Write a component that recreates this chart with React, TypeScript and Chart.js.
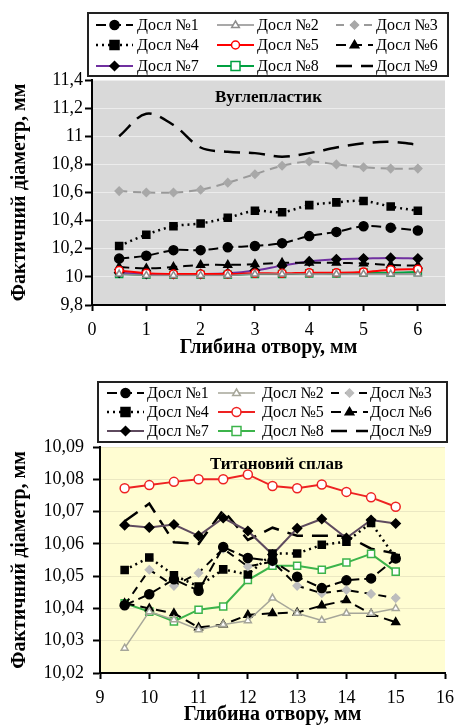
import React, { useEffect, useRef } from 'react';
import { Chart, registerables } from 'chart.js';

Chart.register(...registerables);

// ---- data ----
const seriesNames = ['Досл №1', 'Досл №2', 'Досл №3', 'Досл №4', 'Досл №5', 'Досл №6', 'Досл №7', 'Досл №8', 'Досл №9'];

// Вуглепластик (carbon fibre plastic)
const depthCarbon = [0.5, 1, 1.5, 2, 2.5, 3, 3.5, 4, 4.5, 5, 5.5, 6];
const carbon1 = [10.13, 10.15, 10.19, 10.19, 10.21, 10.22, 10.24, 10.29, 10.32, 10.36, 10.35, 10.33];
const carbon2 = [10.02, 10.01, 10.01, 10.01, 10.01, 10.02, 10.02, 10.02, 10.02, 10.02, 10.02, 10.02];
const carbon3 = [10.61, 10.6, 10.6, 10.62, 10.67, 10.73, 10.79, 10.82, 10.8, 10.78, 10.77, 10.77];
const carbon4 = [10.22, 10.3, 10.36, 10.38, 10.42, 10.47, 10.46, 10.51, 10.53, 10.54, 10.5, 10.47];
const carbon5 = [10.045, 10.025, 10.02, 10.02, 10.02, 10.025, 10.025, 10.03, 10.03, 10.035, 10.05, 10.055];
const carbon6 = [10.07, 10.06, 10.07, 10.085, 10.085, 10.09, 10.1, 10.1, 10.1, 10.095, 10.085, 10.08];
const carbon7 = [10.03, 10.02, 10.02, 10.02, 10.025, 10.045, 10.08, 10.11, 10.125, 10.13, 10.135, 10.13];
const carbon8 = [10.02, 10.015, 10.015, 10.015, 10.015, 10.02, 10.02, 10.025, 10.025, 10.03, 10.03, 10.035];
const carbon9 = [11.0, 11.16, 11.08, 10.92, 10.89, 10.88, 10.855, 10.88, 10.92, 10.95, 10.96, 10.94];
const carbonXTicks = [0, 1, 2, 3, 4, 5, 6];

// Титановий сплав (titanium alloy)
const depthTitan = [9.5, 10, 10.5, 11, 11.5, 12, 12.5, 13, 13.5, 14, 14.5, 15];
const titan1 = [10.041, 10.0444, 10.049, 10.0455, 10.059, 10.0556, 10.0548, 10.0498, 10.0463, 10.0487, 10.0493, 10.0555];
const titan2 = [10.0277, 10.039, 10.0365, 10.0334, 10.035, 10.0362, 10.0432, 10.0385, 10.0363, 10.0385, 10.0385, 10.04];
const titan3 = [10.041, 10.052, 10.047, 10.051, 10.0585, 10.053, 10.0545, 10.047, 10.0447, 10.0457, 10.0445, 10.0432];
const titan4 = [10.0519, 10.0558, 10.0503, 10.0468, 10.0521, 10.0505, 10.057, 10.057, 10.0597, 10.0607, 10.0665, 10.0556];
const titan5 = [10.0772, 10.0782, 10.0792, 10.08, 10.08, 10.0815, 10.0779, 10.0772, 10.0784, 10.0761, 10.0744, 10.0715];
const titan6 = [10.0416, 10.04, 10.0385, 10.0341, 10.035, 10.038, 10.0385, 10.0387, 10.0409, 10.0425, 10.0383, 10.0357];
const titan7 = [10.0658, 10.0651, 10.066, 10.0625, 10.068, 10.064, 10.0567, 10.0648, 10.0677, 10.0618, 10.0674, 10.0663];
const titan8 = [10.0416, 10.039, 10.036, 10.0396, 10.0406, 10.0488, 10.0532, 10.0532, 10.052, 10.0542, 10.0569, 10.0514];
const titan9 = [10.067, 10.0725, 10.0605, 10.06, 10.0705, 10.0612, 10.065, 10.0625, 10.0625, 10.0625, 10.0585, 10.057];
const titanXTicks = [9, 10, 11, 12, 13, 14, 15, 16];

// ---- styles ----
type SeriesStyle = {
  color: string;
  width: number;
  dash: number[];
  point: 'circle' | 'rect' | 'rectRot' | 'triangle' | false;
  radius: number;
  fill: string;
  stroke: string;
};

const carbonStyles: SeriesStyle[] = [
  { color: '#000', width: 2, dash: [10, 5], point: 'circle', radius: 4.5, fill: '#000', stroke: '#000' },
  { color: '#8c8c8c', width: 1.5, dash: [], point: 'triangle', radius: 4, fill: '#fff', stroke: '#8c8c8c' },
  { color: '#9a9a9a', width: 2, dash: [8, 6], point: 'rectRot', radius: 4, fill: '#a8a8a8', stroke: '#a8a8a8' },
  { color: '#000', width: 2.5, dash: [2, 4], point: 'rect', radius: 5, fill: '#000', stroke: '#000' },
  { color: '#ff0000', width: 2, dash: [], point: 'circle', radius: 4, fill: '#fff', stroke: '#ff0000' },
  { color: '#000', width: 2, dash: [10, 6], point: 'triangle', radius: 4.5, fill: '#000', stroke: '#000' },
  { color: '#7030a0', width: 2, dash: [], point: 'rectRot', radius: 4.5, fill: '#000', stroke: '#000' },
  { color: '#00a040', width: 2, dash: [], point: 'rect', radius: 5, fill: '#fff', stroke: '#00a040' },
  { color: '#000', width: 2.5, dash: [16, 9], point: false, radius: 0, fill: '#000', stroke: '#000' },
];

const titanStyles: SeriesStyle[] = [
  { color: '#000', width: 2, dash: [10, 5], point: 'circle', radius: 4.5, fill: '#000', stroke: '#000' },
  { color: '#a6a699', width: 1.5, dash: [], point: 'triangle', radius: 4, fill: '#fff', stroke: '#a6a699' },
  { color: '#000', width: 2, dash: [8, 6], point: 'rectRot', radius: 4, fill: '#bdbdbd', stroke: '#bdbdbd' },
  { color: '#000', width: 2.5, dash: [2, 4], point: 'rect', radius: 5, fill: '#000', stroke: '#000' },
  { color: '#ee2222', width: 2, dash: [], point: 'circle', radius: 4.5, fill: '#fff', stroke: '#ee2222' },
  { color: '#000', width: 2, dash: [10, 6], point: 'triangle', radius: 4.5, fill: '#000', stroke: '#000' },
  { color: '#5e4a5e', width: 2, dash: [], point: 'rectRot', radius: 4.5, fill: '#000', stroke: '#000' },
  { color: '#3cb44b', width: 2, dash: [], point: 'rect', radius: 5, fill: '#fff', stroke: '#3cb44b' },
  { color: '#000', width: 2.5, dash: [16, 9], point: false, radius: 0, fill: '#000', stroke: '#000' },
];

const FONT = '"Liberation Serif", "Times New Roman", serif';

// ---- helpers ----
function drawMarker(ctx: CanvasRenderingContext2D, s: SeriesStyle, x: number, y: number) {
  if (!s.point) return;
  const r = s.radius;
  ctx.save();
  ctx.setLineDash([]);
  ctx.fillStyle = s.fill;
  ctx.strokeStyle = s.stroke;
  ctx.lineWidth = 1.5;
  ctx.beginPath();
  if (s.point === 'circle') {
    ctx.arc(x, y, r, 0, Math.PI * 2);
  } else if (s.point === 'rect') {
    const h = r * 0.9;
    ctx.rect(x - h, y - h, h * 2, h * 2);
  } else if (s.point === 'rectRot') {
    ctx.moveTo(x, y - r);
    ctx.lineTo(x + r, y);
    ctx.lineTo(x, y + r);
    ctx.lineTo(x - r, y);
    ctx.closePath();
  } else if (s.point === 'triangle') {
    ctx.moveTo(x, y - r);
    ctx.lineTo(x + r * 0.95, y + r * 0.6);
    ctx.lineTo(x - r * 0.95, y + r * 0.6);
    ctx.closePath();
  }
  ctx.fill();
  ctx.stroke();
  ctx.restore();
}

const plotBackground = {
  id: 'plotBackground',
  beforeDraw(chart: any, _a: any, opts: any) {
    const { ctx, chartArea } = chart;
    ctx.save();
    ctx.fillStyle = opts.color;
    ctx.fillRect(chartArea.left, chartArea.top, chartArea.right - chartArea.left, chartArea.bottom - chartArea.top);
    ctx.restore();
  },
};

const plotLabel = {
  id: 'plotLabel',
  beforeDatasetsDraw(chart: any, _a: any, opts: any) {
    const { ctx, chartArea } = chart;
    ctx.save();
    ctx.font = `bold 17px ${FONT}`;
    ctx.fillStyle = '#000';
    ctx.textAlign = 'center';
    ctx.textBaseline = 'middle';
    ctx.fillText(opts.text, (chartArea.left + chartArea.right) / 2 + (opts.dx || 0), chartArea.top + opts.dy);
    ctx.restore();
  },
};

const boxLegend = {
  id: 'boxLegend',
  afterDraw(chart: any, _a: any, opts: any) {
    const { ctx } = chart;
    const { box, cols, texts, rows, sample, styles } = opts;
    ctx.save();
    ctx.fillStyle = '#fff';
    ctx.fillRect(box.x, box.y, box.w, box.h);
    ctx.lineWidth = 2;
    ctx.strokeStyle = '#222';
    ctx.strokeRect(box.x, box.y, box.w, box.h);
    chart.data.datasets.forEach((ds: any, i: number) => {
      const s: SeriesStyle = styles[i];
      const x0 = cols[i % 3];
      const y = rows[Math.floor(i / 3)];
      ctx.save();
      ctx.strokeStyle = s.color;
      ctx.lineWidth = s.width;
      ctx.setLineDash(s.dash);
      ctx.beginPath();
      ctx.moveTo(x0, y);
      ctx.lineTo(x0 + sample, y);
      ctx.stroke();
      ctx.restore();
      drawMarker(ctx, s, x0 + sample / 2, y);
      ctx.font = `16px ${FONT}`;
      ctx.fillStyle = '#000';
      ctx.textAlign = 'left';
      ctx.textBaseline = 'middle';
      ctx.fillText(ds.label, texts[i % 3], y + 1);
    });
    ctx.restore();
  },
};

type PanelSpec = {
  xs: number[];
  series: number[][];
  styles: SeriesStyle[];
  tension: number;
  xMin: number;
  xMax: number;
  xTicks: number[];
  yMin: number;
  yMax: number;
  yStep: number;
  yDecimals: number;
  yTickFont: number;
  yTickPad: number;
  label: string;
  labelDx: number;
  bg: string;
  grid: string;
  axisWidth: number;
  xAxisHeight: number;
  padTop: number;
  legend: any;
};

function formatTick(v: number, decimals: number) {
  const f = Math.pow(10, decimals);
  return (Math.round(v * f) / f).toString().replace('.', ',');
}

function buildConfig(p: PanelSpec): any {
  return {
    type: 'line',
    data: {
      datasets: p.series.map((ys, i) => {
        const s = p.styles[i];
        return {
          label: seriesNames[i],
          data: p.xs.map((x, j) => ({ x, y: ys[j] })),
          borderColor: s.color,
          borderWidth: s.width,
          borderDash: s.dash,
          backgroundColor: s.fill,
          pointStyle: s.point,
          pointRadius: s.radius,
          pointBackgroundColor: s.fill,
          pointBorderColor: s.stroke,
          pointBorderWidth: 1.5,
          tension: p.tension,
          fill: false,
        };
      }),
    },
    options: {
      responsive: false,
      animation: false,
      devicePixelRatio: 1,
      layout: { padding: { top: p.padTop, right: 20, left: 0, bottom: 0 } },
      plugins: {
        legend: { display: false },
        tooltip: { enabled: false },
        plotBackground: { color: p.bg },
        plotLabel: { text: p.label, dy: 18, dx: p.labelDx },
        boxLegend: { ...p.legend, styles: p.styles },
      },
      scales: {
        x: {
          type: 'linear',
          min: p.xMin,
          max: p.xMax,
          afterBuildTicks: (scale: any) => {
            scale.ticks = p.xTicks.map((v) => ({ value: v }));
          },
          afterFit: (scale: any) => {
            scale.height = p.xAxisHeight;
          },
          grid: { drawOnChartArea: false, drawTicks: true, tickLength: 6, tickColor: '#000', tickWidth: 2 },
          border: { display: true, color: '#000', width: 2 },
          ticks: {
            color: '#000',
            padding: 8,
            maxRotation: 0,
            font: { family: FONT, size: 18 },
            callback: (v: any) => String(v),
          },
          title: {
            display: true,
            text: 'Глибина отвору, мм',
            color: '#000',
            font: { family: FONT, size: 20, weight: 'bold' },
            padding: { top: 0, bottom: 0 },
          },
        },
        y: {
          type: 'linear',
          min: p.yMin,
          max: p.yMax,
          afterFit: (scale: any) => {
            scale.width = p.axisWidth;
          },
          grid: { color: p.grid, lineWidth: 1, drawTicks: true, tickLength: 7, tickColor: '#000', tickWidth: 2 },
          border: { display: true, color: '#000', width: 2 },
          ticks: {
            stepSize: p.yStep,
            color: '#000',
            padding: p.yTickPad,
            font: { family: FONT, size: p.yTickFont },
            callback: (v: any) => formatTick(Number(v), p.yDecimals),
          },
          title: {
            display: true,
            text: 'Фактичний діаметр, мм',
            color: '#000',
            font: { family: FONT, size: 20, weight: 'bold' },
            padding: { top: 8, bottom: 0 },
          },
        },
      },
    },
    plugins: [plotBackground, plotLabel, boxLegend],
  };
}

const carbonPanel: PanelSpec = {
  xs: depthCarbon,
  series: [carbon1, carbon2, carbon3, carbon4, carbon5, carbon6, carbon7, carbon8, carbon9],
  styles: carbonStyles,
  tension: 0.35,
  xMin: 0,
  xMax: 6.5,
  xTicks: carbonXTicks,
  yMin: 9.8,
  yMax: 11.4,
  yStep: 0.2,
  yDecimals: 1,
  yTickFont: 18,
  yTickPad: 2,
  label: 'Вуглепластик',
  labelDx: 0,
  bg: '#d9d9d9',
  grid: '#ececec',
  axisWidth: 92,
  xAxisHeight: 55,
  padTop: 80,
  legend: {
    box: { x: 88, y: 13, w: 360, h: 63 },
    cols: [96, 217, 336],
    texts: [137, 257, 376],
    rows: [25, 45, 66],
    sample: 37,
  },
};

const titanPanel: PanelSpec = {
  xs: depthTitan,
  series: [titan1, titan2, titan3, titan4, titan5, titan6, titan7, titan8, titan9],
  styles: titanStyles,
  tension: 0,
  xMin: 9,
  xMax: 16,
  xTicks: titanXTicks,
  yMin: 10.02,
  yMax: 10.09,
  yStep: 0.01,
  yDecimals: 2,
  yTickFont: 18,
  yTickPad: 9,
  label: 'Титановий сплав',
  labelDx: 4,
  bg: '#fffdd2',
  grid: '#ebe8c2',
  axisWidth: 100,
  xAxisHeight: 54,
  padTop: 87,
  legend: {
    box: { x: 98, y: 22, w: 349, h: 60 },
    cols: [107, 218, 331],
    texts: [147, 262, 370],
    rows: [33, 52, 71],
    sample: 37,
  },
};

function Panel({ spec, top, height }: { spec: PanelSpec; top: number; height: number }) {
  const ref = useRef<HTMLCanvasElement | null>(null);
  useEffect(() => {
    if (!ref.current) return;
    const chart = new Chart(ref.current, buildConfig(spec));
    return () => chart.destroy();
  }, [spec]);
  return (
    <div style={{ position: 'absolute', left: 0, top, width: 465, height }}>
      <canvas ref={ref} width={465} height={height} style={{ display: 'block', width: 465, height }} />
    </div>
  );
}

export default function App() {
  return (
    <div style={{ position: 'absolute', left: 0, top: 0, width: 465, height: 727, background: '#fff', overflow: 'hidden' }}>
      <Panel spec={carbonPanel} top={0} height={360} />
      <Panel spec={titanPanel} top={360} height={367} />
    </div>
  );
}
